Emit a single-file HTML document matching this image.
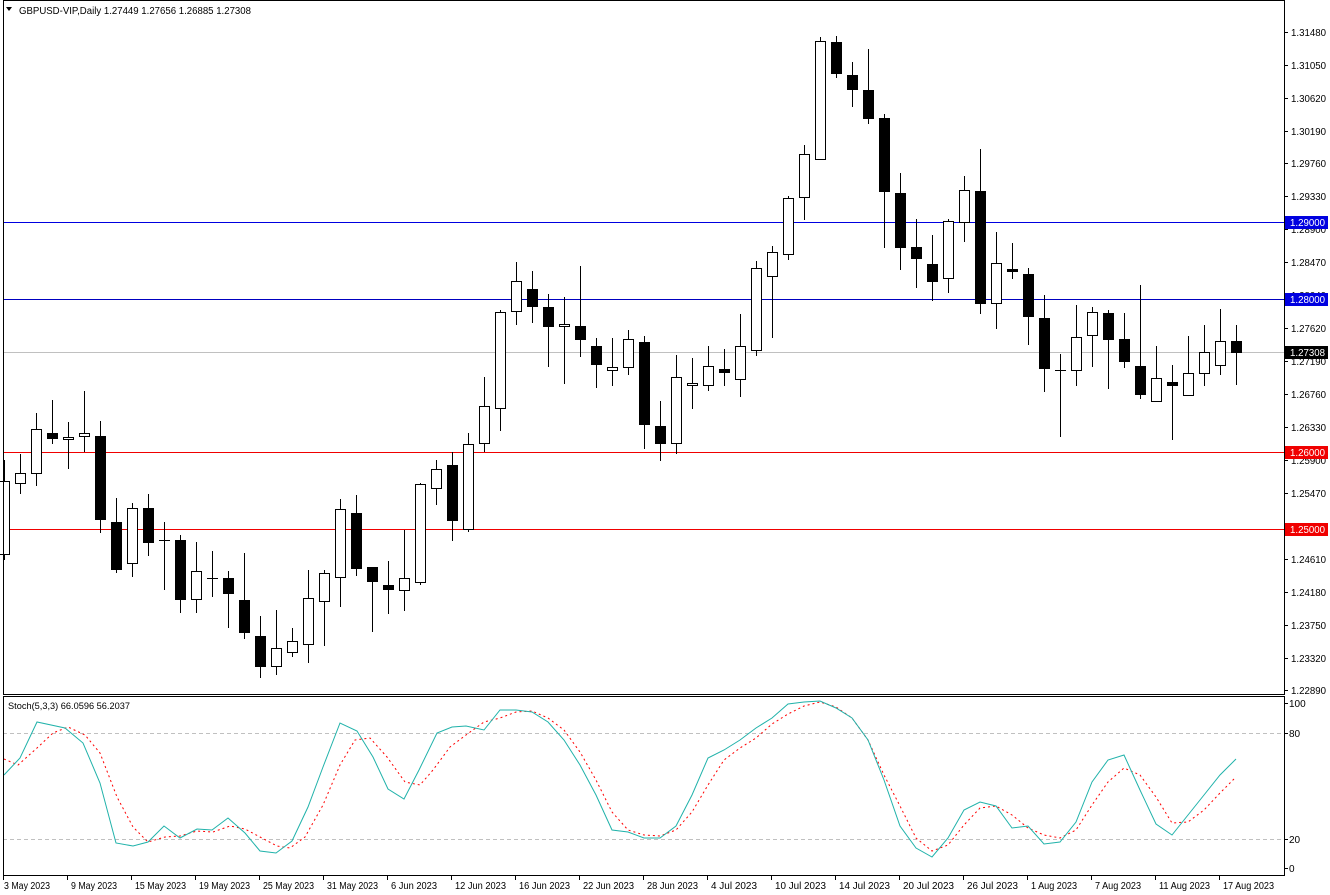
<!DOCTYPE html>
<html><head><meta charset="utf-8"><style>
html,body{margin:0;padding:0;background:#fff;}
svg{display:block;font-family:"Liberation Sans",sans-serif;font-size:10px;}
</style></head><body>
<svg id="s" width="1330" height="895" xmlns="http://www.w3.org/2000/svg">
<rect x="0" y="0" width="1330" height="895" fill="#fff"/>
<g id="levels">
<line x1="3" y1="352.5" x2="1284" y2="352.5" stroke="#c0c0c0"/>
<line x1="3" y1="222.5" x2="1284" y2="222.5" stroke="#0000e0"/>
<line x1="3" y1="299.5" x2="1284" y2="299.5" stroke="#0000c0"/>
<line x1="3" y1="452.5" x2="1284" y2="452.5" stroke="#f00000"/>
<line x1="3" y1="529.5" x2="1284" y2="529.5" stroke="#f00000"/>
<line x1="3" y1="733.5" x2="1284" y2="733.5" stroke="#c0c0c0" stroke-dasharray="4,3"/>
<line x1="3" y1="839.5" x2="1284" y2="839.5" stroke="#c0c0c0" stroke-dasharray="4,3"/>
</g>
<g id="candles"></g>
<g id="stoch" fill="none"></g>
<rect x="3.5" y="0.5" width="1281" height="694" fill="none" stroke="#000"/>
<rect x="3.5" y="696.5" width="1281" height="179" fill="none" stroke="#000"/>
<g id="axis" fill="#000"></g>
<polygon points="6,7 12,7 9,11" fill="#000"/>
<text x="19" y="14" textLength="232" lengthAdjust="spacingAndGlyphs">GBPUSD-VIP,Daily  1.27449 1.27656 1.26885 1.27308</text>
<text x="8" y="709" font-size="9.5" textLength="122" lengthAdjust="spacingAndGlyphs">Stoch(5,3,3) 66.0596 56.2037</text>
</svg>
<script>
const NS="http://www.w3.org/2000/svg";
function el(p,t,a,txt){const e=document.createElementNS(NS,t);for(const k in a)e.setAttribute(k,a[k]);if(txt!==undefined)e.textContent=txt;p.appendChild(e);return e;}
const C=[
[481,555,460,560,0],[473,484,454,494,0],[429,474,413,486,0],[433,439,400,444,1],[437,440,422,469,0],[433,437,391,452,0],
[436,520,421,533,1],[522,570,498,573,1],[508,564,503,577,0],[508,543,494,556,1],[540,540,522,590,2],[540,600,535,613,1],
[571,600,542,613,0],[578,578,551,597,2],[578,594,571,628,1],[600,633,553,639,1],[636,667,616,678,1],[648,667,610,675,0],
[641,653,628,657,0],[598,645,570,663,0],[573,602,570,646,0],[509,578,499,607,0],[513,569,495,576,1],[567,582,567,632,1],
[585,590,561,614,1],[578,591,530,611,0],[484,583,483,585,0],[469,489,460,505,0],[465,521,452,541,1],[444,530,433,532,0],
[406,444,377,452,0],[312,409,310,431,0],[281,312,262,325,0],[289,307,271,323,1],[307,327,294,367,1],[324,327,297,384,0],
[326,340,266,357,1],[346,365,338,388,1],[367,371,338,386,0],[339,368,330,375,0],[342,425,336,449,1],[426,444,401,461,1],
[377,444,355,454,0],[383,386,358,409,0],[366,386,346,391,0],[369,373,349,386,1],[346,380,314,397,0],[268,351,261,356,0],
[252,277,246,338,0],[198,255,196,260,0],[154,198,145,220,0],[41,160,37,160,0],[42,74,36,78,1],[75,90,62,107,1],
[90,119,49,124,1],[118,192,114,248,1],[193,248,173,270,1],[247,259,219,288,1],[264,282,235,301,1],[221,279,219,293,0],
[190,223,176,242,0],[191,304,149,314,1],[263,304,232,329,0],[269,272,243,279,1],[274,317,268,345,1],[318,369,295,392,1],
[370,370,354,437,2],[337,371,305,386,0],[312,336,307,367,0],[313,340,310,389,1],[339,362,313,368,1],[366,395,285,399,1],
[378,402,346,402,0],[382,386,365,440,1],[373,396,336,396,0],[352,374,325,386,0],[341,366,309,375,0],[341,353,325,385,1]];
const g=document.getElementById('candles');
C.forEach((c,i)=>{const x=4+16*i;
 el(g,'line',{x1:x+0.5,y1:c[2],x2:x+0.5,y2:c[3],stroke:'#000','stroke-width':1});
 if(c[4]==2){el(g,'line',{x1:x-5,y1:c[0]+0.5,x2:x+6,y2:c[0]+0.5,stroke:'#000','stroke-width':1});}
 else if(c[4]==1){el(g,'rect',{x:x-5,y:c[0],width:11,height:Math.max(2,c[1]-c[0]),fill:'#000'});}
 else{el(g,'rect',{x:x-4.5,y:c[0]+0.5,width:10,height:Math.max(2,c[1]-c[0]-1),fill:'#fff',stroke:'#000'});}
});
const teal=[[4,775],[20,758],[37,722],[65,728],[83,743],[100,783],[116,843],[133,846],[148,842],[164,826],[180,838],[197,829],[212,830],[228,818],[245,833],[260,851],[276,853],[292,841],[308,807],[323,767],[340,723],[357,731],[373,757],[388,789],[404,799],[419,770],[437,733],[452,727],[466,726],[484,730],[500,710],[516,710],[532,712],[548,722],[564,740],[580,765],[596,795],[612,830],[628,832],[644,838],[660,838],[676,826],[692,795],[708,758],[724,750],[740,740],[756,728],[772,718],[788,704],[804,702],[820,701],[836,708],[852,718],[868,740],[884,780],[900,826],[916,848],[932,857],[948,838],[964,810],[980,802],[996,806],[1012,828],[1028,826],[1044,844],[1060,842],[1076,822],[1092,782],[1108,760],[1124,755],[1140,790],[1156,824],[1172,835],[1188,815],[1204,795],[1220,775],[1236,759]];
const red=[[4,759],[18,765],[37,748],[53,733],[68,727],[85,735],[100,753],[117,797],[133,827],[148,842],[165,837],[180,836],[197,831],[213,832],[230,826],[245,829],[260,837],[277,846],[290,848],[305,837],[323,805],[340,765],[355,740],[370,738],[387,757],[405,782],[420,785],[433,770],[450,747],[466,735],[484,722],[500,718],[516,712],[532,711],[548,718],[564,730],[580,752],[596,780],[612,812],[628,830],[644,835],[660,836],[676,830],[692,812],[708,785],[724,760],[740,748],[756,738],[772,724],[788,714],[804,706],[820,702],[836,707],[852,718],[868,740],[884,775],[900,806],[916,838],[932,851],[948,845],[964,825],[980,808],[996,806],[1012,815],[1028,828],[1044,835],[1060,838],[1076,830],[1092,805],[1108,782],[1124,768],[1140,775],[1156,797],[1172,823],[1188,822],[1204,810],[1220,793],[1236,777]];
const sg=document.getElementById('stoch');
el(sg,'polyline',{points:red.map(p=>p.join(',')).join(' '),stroke:'#ff0000','stroke-width':1,'stroke-dasharray':'2,3'});
el(sg,'polyline',{points:teal.map(p=>p.join(',')).join(' '),stroke:'#20b2aa','stroke-width':1});
const ax=document.getElementById('axis');
const pl=[[1.31480,32],[1.31050,65],[1.30620,98],[1.30190,131],[1.29760,163],[1.29330,196],[1.28900,229],[1.28470,262],[1.28040,295],[1.27620,328],[1.27190,361],[1.26760,394],[1.26330,427],[1.25900,460],[1.25470,493],[1.25040,526],[1.24610,559],[1.24180,592],[1.23750,625],[1.23320,658],[1.22890,690]];
pl.forEach(p=>{el(ax,'line',{x1:1284,y1:p[1]+0.5,x2:1288,y2:p[1]+0.5,stroke:'#000'});el(ax,'text',{x:1291,y:p[1]+4,textLength:35,lengthAdjust:'spacingAndGlyphs'},p[0].toFixed(5));});
[[100,703],[80,733],[20,839],[0,868]].forEach(p=>{el(ax,'line',{x1:1284,y1:p[1]+0.5,x2:1288,y2:p[1]+0.5,stroke:'#000'});el(ax,'text',{x:1289,y:p[1]+4},String(p[0]));});
[['1.29000',222,'#0000e0'],['1.28000',299,'#0000e0'],['1.27308',352,'#000'],['1.26000',452,'#f00000'],['1.25000',529,'#f00000']].forEach(l=>{
 el(ax,'rect',{x:1285,y:l[1]-6,width:43,height:13,fill:l[2]});
 el(ax,'text',{x:1290,y:l[1]+4,fill:'#fff',textLength:35,lengthAdjust:'spacingAndGlyphs'},l[0]);});
const d=['3 May 2023','9 May 2023','15 May 2023','19 May 2023','25 May 2023','31 May 2023','6 Jun 2023','12 Jun 2023','16 Jun 2023','22 Jun 2023','28 Jun 2023','4 Jul 2023','10 Jul 2023','14 Jul 2023','20 Jul 2023','26 Jul 2023','1 Aug 2023','7 Aug 2023','11 Aug 2023','17 Aug 2023'];
d.forEach((t,i)=>{const x=3+64*i;el(ax,'line',{x1:x+0.5,y1:876,x2:x+0.5,y2:880,stroke:'#000'});
 const w=t.length>=11?51:46;
 el(ax,'text',{x:x+(i==0?1:4),y:889,textLength:w,lengthAdjust:'spacingAndGlyphs'},t);});
</script>
</body></html>
